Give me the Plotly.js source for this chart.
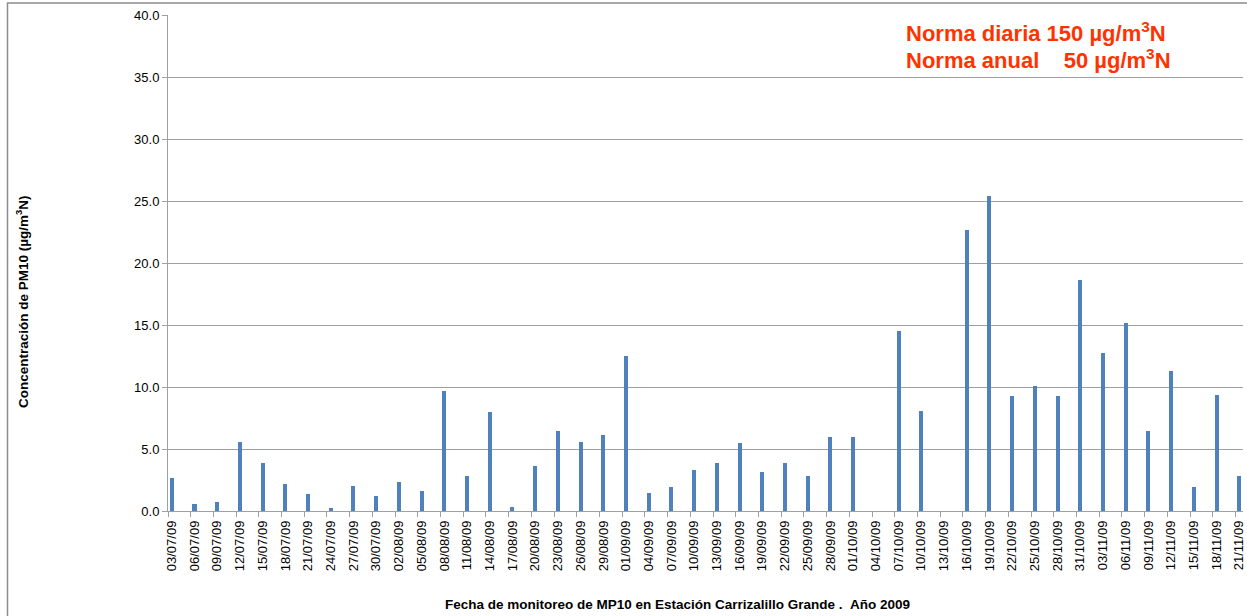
<!DOCTYPE html>
<html>
<head>
<meta charset="utf-8">
<script src="https://cdn.plot.ly/plotly-3.0.1.min.js"></script>
<style>
  html, body { margin: 0; padding: 0; background: #fff; }
  #chart { width: 1247px; height: 616px; }
</style>
</head>
<body>
<div id="chart"></div>
<script>
// Sampling dates (every third day) and their axis labels
const dates = [
  "2009-07-03","2009-07-06","2009-07-09","2009-07-12","2009-07-15","2009-07-18",
  "2009-07-21","2009-07-24","2009-07-27","2009-07-30","2009-08-02","2009-08-05",
  "2009-08-08","2009-08-11","2009-08-14","2009-08-17","2009-08-20","2009-08-23",
  "2009-08-26","2009-08-29","2009-09-01","2009-09-04","2009-09-07","2009-09-10",
  "2009-09-13","2009-09-16","2009-09-19","2009-09-22","2009-09-25","2009-09-28",
  "2009-10-01","2009-10-04","2009-10-07","2009-10-10","2009-10-13","2009-10-16",
  "2009-10-19","2009-10-22","2009-10-25","2009-10-28","2009-10-31","2009-11-03",
  "2009-11-06","2009-11-09","2009-11-12","2009-11-15","2009-11-18","2009-11-21"
];
const tickLabels = [
  "03/07/09","06/07/09","09/07/09","12/07/09","15/07/09","18/07/09",
  "21/07/09","24/07/09","27/07/09","30/07/09","02/08/09","05/08/09",
  "08/08/09","11/08/09","14/08/09","17/08/09","20/08/09","23/08/09",
  "26/08/09","29/08/09","01/09/09","04/09/09","07/09/09","10/09/09",
  "13/09/09","16/09/09","19/09/09","22/09/09","25/09/09","28/09/09",
  "01/10/09","04/10/09","07/10/09","10/10/09","13/10/09","16/10/09",
  "19/10/09","22/10/09","25/10/09","28/10/09","31/10/09","03/11/09",
  "06/11/09","09/11/09","12/11/09","15/11/09","18/11/09","21/11/09"
];
// PM10 concentration (µg/m3N)
const pm10 = [
  2.65, 0.55, 0.73, 5.57, 3.87, 2.16,
  1.35, 0.22, 2.00, 1.19, 2.33, 1.60,
  9.65, 2.84, 7.95, 0.32, 3.65, 6.49,
  5.60, 6.16, 12.49, 1.46, 1.95, 3.30,
  3.90, 5.50, 3.16, 3.90, 2.84, 6.00,
  6.00, null, 14.55, 8.03, null, 22.66,
  25.40, 9.27, 10.08, 9.27, 18.63, 12.74,
  15.16, 6.45, 11.29, 1.94, 9.35, 2.82
];
const yTicks = [0, 5, 10, 15, 20, 25, 30, 35, 40];

const DAY = 86400000;
const ms = d => new Date(d + "T00:00:00Z").getTime();
const iso = t => new Date(t).toISOString().replace("T", " ").replace("Z", "");
const xRange = [iso(ms(dates[0]) - DAY / 2), iso(ms(dates[dates.length - 1]) + DAY / 2)];
const boundaryTicks = dates.map(d => iso(ms(d) - DAY / 2));

const W = 1247, H = 616;
const M = { l: 168, r: 4, t: 15, b: 105 };
const pw = W - M.l - M.r, ph = H - M.t - M.b;
const px = x => (x - M.l) / pw;          // pixel x -> paper x
const py = y => (H - M.b - y) / ph;      // pixel y -> paper y

const font = "Liberation Sans, Arial, sans-serif";
const gray = "#a0a0a0";

const traces = [
  {
    type: "bar",
    x: dates,
    y: pm10,
    width: 0.53 * DAY,
    marker: { color: "#4F81BD", line: { width: 0 } },
    hoverinfo: "x+y",
    showlegend: false
  },
  {
    type: "scatter",
    mode: "markers",
    x: [], y: [],
    xaxis: "x2",
    showlegend: false,
    hoverinfo: "skip"
  }
];

const layout = {
  width: W, height: H,
  margin: M,
  paper_bgcolor: "#ffffff",
  plot_bgcolor: "#ffffff",
  font: { family: font, color: "#000" },
  showlegend: false,
  bargap: 0,
  xaxis: {
    type: "date",
    range: xRange,
    tickmode: "array",
    tickvals: boundaryTicks,
    showticklabels: false,
    ticks: "outside",
    ticklen: 5,
    tickcolor: gray,
    showgrid: false,
    zeroline: false,
    showline: true,
    linecolor: gray,
    linewidth: 1,
    fixedrange: true
  },
  xaxis2: {
    type: "date",
    overlaying: "x",
    anchor: "y",
    side: "bottom",
    range: xRange,
    tickmode: "array",
    tickvals: dates,
    ticktext: tickLabels,
    tickangle: -90,
    ticks: "",
    ticklabelstandoff: 6,
    tickfont: { family: font, size: 13, color: "#000" },
    showgrid: false,
    zeroline: false,
    showline: false,
    fixedrange: true
  },
  yaxis: {
    range: [0, 40],
    tickmode: "array",
    tickvals: yTicks,
    ticktext: yTicks.map(v => v.toFixed(1)),
    ticks: "outside",
    ticklen: 5,
    tickcolor: gray,
    tickfont: { family: font, size: 13, color: "#000" },
    showgrid: true,
    gridcolor: gray,
    gridwidth: 1,
    zeroline: false,
    showline: true,
    linecolor: gray,
    linewidth: 1,
    fixedrange: true
  },
  annotations: [
    {
      xref: "paper", yref: "paper",
      x: px(22), y: py(302),
      text: "<b>Concentración de PM10 (µg/m<sup>3</sup>N)</b>",
      textangle: -90,
      showarrow: false,
      font: { family: font, size: 13.5, color: "#000" },
      xanchor: "center", yanchor: "middle"
    },
    {
      xref: "paper", yref: "paper",
      x: px(677), y: py(604),
      text: "<b>Fecha de monitoreo de MP10 en Estación Carrizalillo Grande .\u00a0\u00a0Año 2009</b>",
      showarrow: false,
      font: { family: font, size: 13.5, color: "#000" },
      xanchor: "center", yanchor: "middle"
    },
    {
      xref: "paper", yref: "paper",
      x: px(904), y: py(32),
      text: "<b>Norma diaria 150 µg/m<sup>3</sup>N</b>",
      showarrow: false,
      font: { family: font, size: 22, color: "#FF3300" },
      xanchor: "left", yanchor: "middle"
    },
    {
      xref: "paper", yref: "paper",
      x: px(904), y: py(59),
      text: "<b>Norma anual\u00a0\u00a0\u00a0 50 µg/m<sup>3</sup>N</b>",
      showarrow: false,
      font: { family: font, size: 22, color: "#FF3300" },
      xanchor: "left", yanchor: "middle"
    }
  ],
  shapes: [
    {
      type: "rect", xref: "paper", yref: "paper", layer: "below",
      x0: px(7.5), x1: px(W + 20), y0: py(H + 20), y1: py(3),
      line: { color: "#8c8c8c", width: 1.5 },
      fillcolor: "rgba(0,0,0,0)"
    }
  ]
};

Plotly.newPlot("chart", traces, layout, { displayModeBar: false, staticPlot: true });
</script>
</body>
</html>
